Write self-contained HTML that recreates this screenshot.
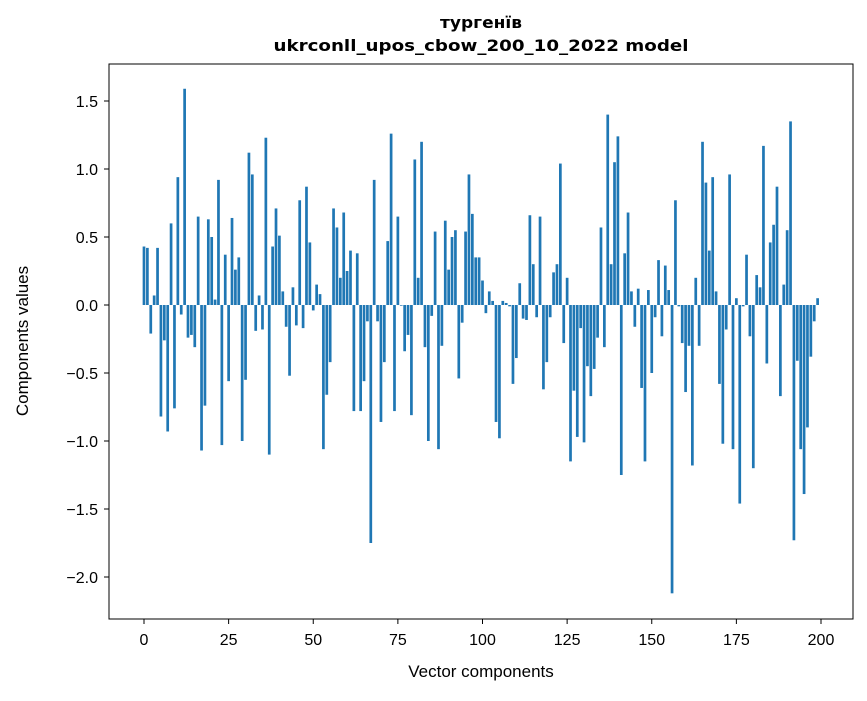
<!DOCTYPE html>
<html><head><meta charset="utf-8">
<style>
body{margin:0;background:#fff;}
svg text{font-family:"Liberation Sans","DejaVu Sans",sans-serif;fill:#000;}
svg text.ttl{font-family:"DejaVu Sans","Liberation Sans",sans-serif;}
</style></head>
<body>
<svg id="chart" width="867" height="696" xmlns="http://www.w3.org/2000/svg">
<rect width="867" height="696" fill="#fff"/>
<text class="ttl" x="481" y="28" font-size="16" font-weight="bold" text-anchor="middle" textLength="82" lengthAdjust="spacingAndGlyphs">тургенїв</text>
<text class="ttl" x="481" y="51" font-size="16" font-weight="bold" text-anchor="middle" textLength="415" lengthAdjust="spacingAndGlyphs">ukrconll_upos_cbow_200_10_2022 model</text>
<g id="bars"></g>
<g id="axes"></g>
<rect x="109" y="64" width="744" height="555" fill="none" stroke="#000" stroke-width="1"/>
<text x="481" y="677" font-size="17" text-anchor="middle">Vector components</text>
<text x="28" y="341" font-size="17" text-anchor="middle" transform="rotate(-90 28 341)">Components values</text>
</svg>
<script>
const values = [0.43,0.42,-0.21,0.07,0.42,-0.82,-0.26,-0.93,0.6,-0.76,
0.94,-0.07,1.59,-0.24,-0.22,-0.31,0.65,-1.07,-0.74,0.63,
0.5,0.04,0.92,-1.03,0.37,-0.56,0.64,0.26,0.35,-1.0,
-0.55,1.12,0.96,-0.19,0.07,-0.18,1.23,-1.1,0.43,0.71,
0.51,0.1,-0.16,-0.52,0.13,-0.15,0.77,-0.17,0.87,0.46,
-0.04,0.15,0.08,-1.06,-0.66,-0.42,0.71,0.57,0.2,0.68,
0.25,0.4,-0.78,0.38,-0.78,-0.56,-0.12,-1.75,0.92,-0.12,
-0.86,-0.42,0.47,1.26,-0.78,0.65,-0.005,-0.34,-0.22,-0.81,
1.07,0.2,1.2,-0.31,-1.0,-0.08,0.54,-1.06,-0.3,0.62,
0.26,0.5,0.55,-0.54,-0.13,0.54,0.96,0.67,0.35,0.35,
0.18,-0.06,0.1,0.03,-0.86,-0.98,0.03,0.015,-0.01,-0.58,
-0.39,0.16,-0.1,-0.11,0.66,0.3,-0.09,0.65,-0.62,-0.42,
-0.09,0.24,0.3,1.04,-0.28,0.2,-1.15,-0.63,-0.97,-0.17,
-1.01,-0.45,-0.67,-0.47,-0.24,0.57,-0.31,1.4,0.3,1.05,
1.24,-1.25,0.38,0.68,0.1,-0.16,0.12,-0.61,-1.15,0.11,
-0.5,-0.09,0.33,-0.23,0.29,0.11,-2.12,0.77,-0.01,-0.28,
-0.64,-0.3,-1.18,0.2,-0.3,1.2,0.9,0.4,0.94,0.1,
-0.58,-1.02,-0.18,0.96,-1.06,0.05,-1.46,-0.01,0.37,-0.23,
-1.2,0.22,0.13,1.17,-0.43,0.46,0.59,0.87,-0.67,0.15,
0.55,1.35,-1.73,-0.41,-1.06,-1.39,-0.9,-0.38,-0.12,0.05];
const xTicks = [0,25,50,75,100,125,150,175,200];
const yTicks = [-2.0,-1.5,-1.0,-0.5,0.0,0.5,1.0,1.5];
const yTickLabels = ["\u22122.0","\u22121.5","\u22121.0","\u22120.5","0.0","0.5","1.0","1.5"];

const NS="http://www.w3.org/2000/svg";
function xs(v){return 144+v*3.385;}
function ys(v){return 305-v*136;}
const bars=document.getElementById('bars');
values.forEach((v,i)=>{
  const r=document.createElementNS(NS,'rect');
  const w=0.8*3.385;
  r.setAttribute('x',xs(i)-w/2);
  r.setAttribute('width',w);
  r.setAttribute('y',Math.min(ys(v),ys(0)));
  r.setAttribute('height',Math.abs(ys(v)-ys(0)));
  r.setAttribute('fill','#1f77b4');
  
  
  bars.appendChild(r);
});
const axes=document.getElementById('axes');
xTicks.forEach(t=>{
  const l=document.createElementNS(NS,'line');
  l.setAttribute('x1',xs(t));l.setAttribute('x2',xs(t));
  l.setAttribute('y1',619);l.setAttribute('y2',624);
  l.setAttribute('stroke','#000');
  
  
  axes.appendChild(l);
  const tx=document.createElementNS(NS,'text');
  tx.setAttribute('x',xs(t));tx.setAttribute('y',645);
  tx.setAttribute('font-size','16');tx.setAttribute('text-anchor','middle');
  tx.textContent=t;
  
  
  axes.appendChild(tx);
});
yTicks.forEach((t,i)=>{
  const l=document.createElementNS(NS,'line');
  l.setAttribute('x1',104);l.setAttribute('x2',109);
  l.setAttribute('y1',ys(t));l.setAttribute('y2',ys(t));
  l.setAttribute('stroke','#000');
  
  
  axes.appendChild(l);
  const tx=document.createElementNS(NS,'text');
  tx.setAttribute('x',98);tx.setAttribute('y',ys(t)+6);
  tx.setAttribute('font-size','16');tx.setAttribute('text-anchor','end');
  tx.textContent=yTickLabels[i];
  
  
  axes.appendChild(tx);
});
</script>
</body></html>
